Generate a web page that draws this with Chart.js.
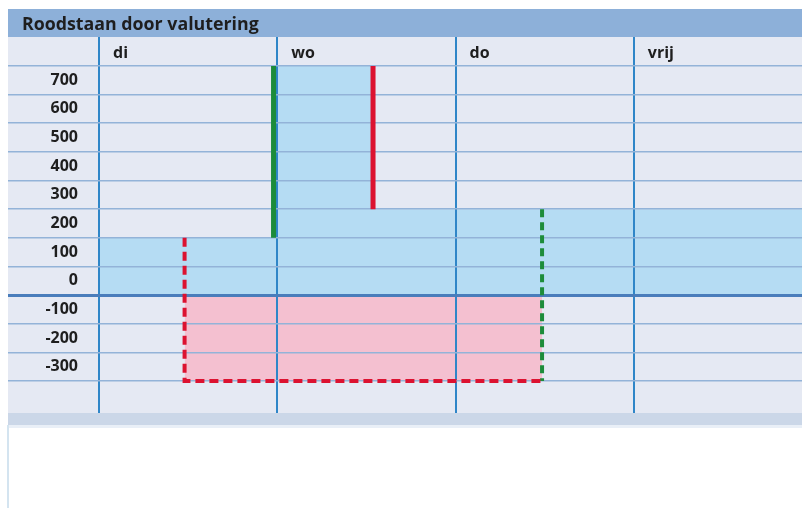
<!DOCTYPE html>
<html>
<head>
<meta charset="utf-8">
<script src="https://cdn.jsdelivr.net/npm/chart.js@4/dist/chart.umd.min.js"></script>
<style>
    body { margin: 0; background: #fff; }
    #wrap { position: relative; width: 802px; height: 508px; }
    .bg { position: absolute; }
    canvas { position: absolute; left: 0; top: 0; }
</style>
</head>
<body>
<div id="wrap">
    <div class="bg" style="left:8px;top:9px;width:794px;height:28px;background:#8db0d9"></div>
    <div class="bg" style="left:8px;top:37px;width:794px;height:376px;background:#e5e9f3"></div>
    <div class="bg" style="left:8px;top:413px;width:794px;height:12px;background:#cbd7e8"></div>
    <div class="bg" style="left:8px;top:425px;width:794px;height:3px;background:#e9eff7"></div>
    <div class="bg" style="left:7px;top:425px;width:2px;height:83px;background:#d4e4f0"></div>
    <canvas id="chart" width="802" height="508"></canvas>
</div>
<script>
// dagen (kolommen) en rasterwaarden
const days = ['di', 'wo', 'do', 'vrij'];
const dayTicks = [0, 1, 2, 3];
const gridValues = [-300, -200, -100, 0, 100, 200, 300, 400, 500, 600, 700, 800];
const tickLabels = [700, 600, 500, 400, 300, 200, 100, 0, -100, -200, -300];

// saldo (blauw) - trapvorm
const saldoX = [0, 1, 1.537, 3.943];
const saldoY = [200, 800, 300, 300];

// roodstaan (roze)
const roodX = [0.48, 2.485];
const roodY = [-300, -300];

// lijnen
const boekingX = [0.979, 0.979];
const boekingY = [800, 200];
const afboekingX = [1.537, 1.537];
const afboekingY = [800, 300];
const roodStippelX = [0.48, 0.48, 2.485];
const roodStippelY = [200, -300, -300];
const groenStippelX = [2.485, 2.485];
const groenStippelY = [300, -300];

const colors = {
    blue: '#b5dcf3',
    pink: '#f4c0d0',
    red: '#dc1230',
    green: '#1d8c3a',
    grid: '#93b3d8',
    zero: '#4a7dbb',
    column: '#2f86c8',
    text: '#1e1e1e'
};

function pts(xs, ys) {
    return xs.map((x, i) => ({ x: x, y: ys[i] }));
}

const font = { family: "'Open Sans', sans-serif", size: 16, weight: 'bold' };

new Chart(document.getElementById('chart'), {
    type: 'line',
    data: {
        datasets: [
            {
                data: pts(saldoX, saldoY),
                stepped: 'before',
                fill: 'origin',
                backgroundColor: colors.blue,
                borderWidth: 0,
                pointRadius: 0
            },
            {
                data: pts(roodX, roodY),
                fill: 'origin',
                backgroundColor: colors.pink,
                borderWidth: 0,
                pointRadius: 0
            },
            {
                data: pts(boekingX, boekingY),
                borderColor: colors.green,
                borderWidth: 5,
                pointRadius: 0
            },
            {
                data: pts(afboekingX, afboekingY),
                borderColor: colors.red,
                borderWidth: 5,
                pointRadius: 0
            },
            {
                data: pts(roodStippelX, roodStippelY),
                borderColor: colors.red,
                borderWidth: 4,
                borderDash: [9, 5],
                pointRadius: 0
            },
            {
                data: pts(groenStippelX, groenStippelY),
                borderColor: colors.green,
                borderWidth: 4,
                borderDash: [8, 5],
                pointRadius: 0
            }
        ]
    },
    options: {
        responsive: false,
        animation: false,
        layout: {
            padding: { left: 22, top: 9, right: 0, bottom: 95 }
        },
        plugins: {
            legend: { display: false },
            tooltip: { enabled: false },
            filler: { drawTime: 'beforeDraw' },
            title: {
                display: true,
                text: 'Roodstaan door valutering',
                align: 'start',
                color: colors.text,
                font: { family: "'Open Sans', sans-serif", size: 17.8, weight: 'bold' },
                padding: { top: 5, bottom: 1.6 }
            }
        },
        scales: {
            x: {
                type: 'linear',
                position: 'top',
                min: 0,
                max: 3.943,
                afterBuildTicks: function(scale) {
                    scale.ticks = dayTicks.map(v => ({ value: v }));
                },
                afterFit: function(scale) {
                    scale.height = 29;
                },
                border: { display: false },
                grid: {
                    color: colors.column,
                    lineWidth: 2,
                    tickLength: 29
                },
                ticks: {
                    align: 'start',
                    labelOffset: 14,
                    padding: -25.6,
                    maxRotation: 0,
                    autoSkip: false,
                    color: colors.text,
                    font: font,
                    callback: function(value) {
                        return days[dayTicks.indexOf(value)] || '';
                    }
                }
            },
            y: {
                type: 'linear',
                min: -412,
                max: 800,
                afterBuildTicks: function(scale) {
                    scale.ticks = gridValues.map(v => ({ value: v }));
                },
                afterFit: function(scale) {
                    scale.width = 77;
                },
                border: { display: false },
                grid: {
                    color: ctx => ctx.tick && ctx.tick.value === 0 ? colors.zero : colors.grid,
                    lineWidth: ctx => ctx.tick && ctx.tick.value === 0 ? 3 : 1.5,
                    tickLength: 91
                },
                ticks: {
                    padding: -70,
                    labelOffset: -14.3,
                    autoSkip: false,
                    color: colors.text,
                    font: font,
                    callback: function(value) {
                        return tickLabels.includes(value) ? String(value) : '';
                    }
                }
            }
        }
    }
});
</script>
</body>
</html>
